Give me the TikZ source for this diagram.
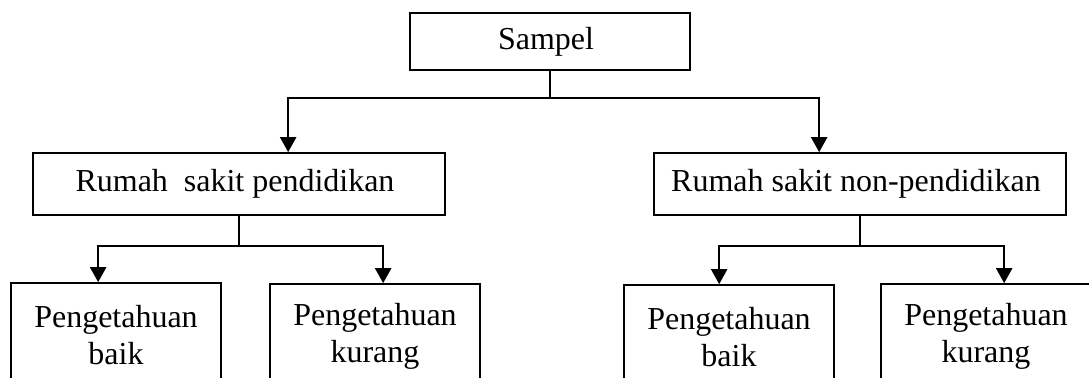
\documentclass[tikz,border=0pt]{standalone}
\usepackage{fontspec}
\setmainfont{Liberation Serif}
\usetikzlibrary{arrows.meta}
\tikzset{
  box/.style={draw, line width=0.95pt, inner sep=0pt, align=center,
    font=\fontsize{18.2}{21}\selectfont},
  topbox/.style={box, minimum width=5.6cm, minimum height=1.14cm},
  rsbox/.style={box, minimum width=8.24cm, minimum height=1.24cm},
  leafbox/.style={box, minimum width=4.2cm, minimum height=2.08cm},
  link/.style={line width=0.9pt},
  arrowlink/.style={line width=1.25pt, -{Triangle[length=0.3cm,width=0.32cm]}},
}
\begin{document}
\begin{tikzpicture}
  \useasboundingbox (0,0) rectangle (21.78,-7.56);
  \clip (0,0) rectangle (21.78,-7.56);

  % Marking node Sampel
  \node [topbox] (sampel) at (11.00,-0.83) { Sampel };

  % Marking nodes Rumah sakit
  \node [rsbox] (rsA) at (4.78,-3.68) { Rumah\ \ sakit pendidikan };
  \node [rsbox] (rsB) at (17.20,-3.68) { Rumah sakit non-pendidikan };

  % Marking nodes Pengetahuan
  \node [leafbox] (baikA) at (2.32,-6.70) { Pengetahuan\\baik };
  \node [leafbox] (kurangA) at (7.50,-6.72) { Pengetahuan\\kurang };
  \node [leafbox] (baikB) at (14.58,-6.74) { Pengetahuan\\baik };
  \node [leafbox] (kurangB) at (19.72,-6.72) { Pengetahuan\\kurang };

  % Marking branch points
  \coordinate (joinTop) at (11.00,-1.96);
  \coordinate (joinA) at (4.78,-4.92);
  \coordinate (joinB) at (17.20,-4.92);

  % Drawing Sampel to Rumah sakit
  \draw [link] (sampel.south) -- (joinTop);
  \draw [arrowlink] (joinTop) -| ([xshift=5.12cm]rsA.north west);
  \draw [arrowlink] (joinTop) -| ([xshift=3.32cm]rsB.north west);

  % Drawing Rumah sakit pendidikan to Pengetahuan
  \draw [link] (rsA.south) -- (joinA);
  \draw [arrowlink] (joinA) -| ([xshift=1.76cm]baikA.north west);
  \draw [arrowlink] (joinA) -| ([xshift=2.28cm]kurangA.north west);

  % Drawing Rumah sakit non-pendidikan to Pengetahuan
  \draw [link] (rsB.south) -- (joinB);
  \draw [arrowlink] (joinB) -| ([xshift=1.92cm]baikB.north west);
  \draw [arrowlink] (joinB) -| ([xshift=2.48cm]kurangB.north west);
\end{tikzpicture}
\end{document}
